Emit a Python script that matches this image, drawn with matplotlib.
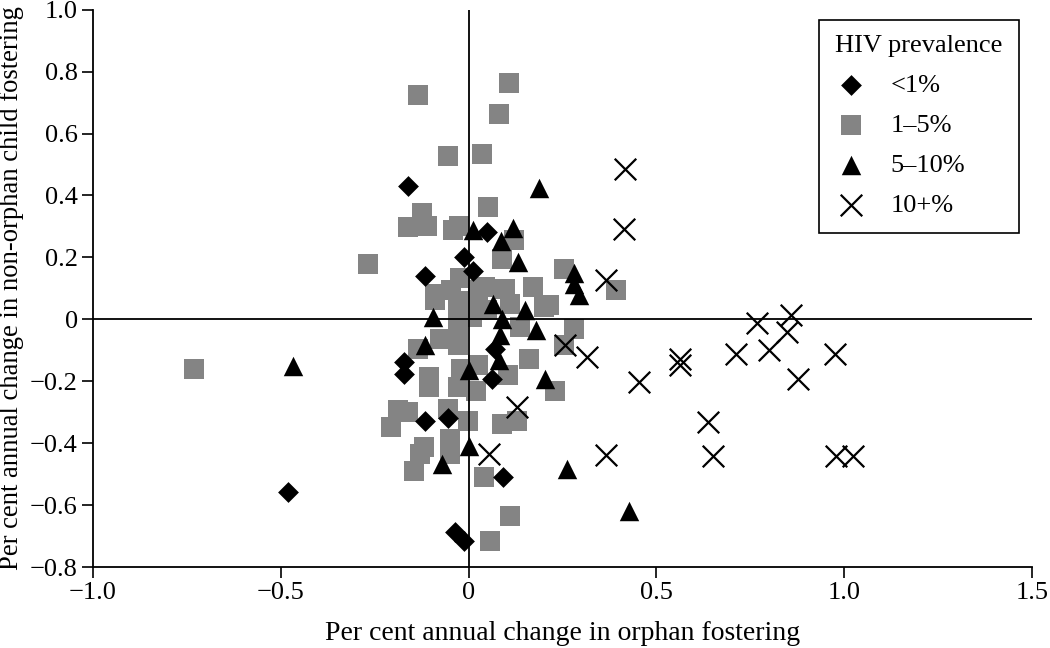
import matplotlib
matplotlib.use('Agg')
import matplotlib.pyplot as plt
from matplotlib.ticker import FuncFormatter

plt.rcParams['font.family'] = ['Liberation Serif', 'DejaVu Serif']

#%% data
# <1%
dia_x = [-0.162, 0.048, -0.012, 0.013, -0.115, -0.171, -0.171, -0.115, -0.055,
         0.091, -0.037, -0.012, 0.062, 0.070, -0.482]
dia_y = [0.431, 0.283, 0.200, 0.156, 0.139, -0.138, -0.176, -0.327, -0.320,
         -0.510, -0.688, -0.715, -0.192, -0.095, -0.557]

# 1-5%
sq_x = [-0.135, 0.108, 0.081, -0.054, 0.035, 0.051, -0.124, -0.160, -0.110, -0.041,
        -0.025, -0.269, 0.120, 0.088, 0.255, 0.394, 0.173, -0.023, 0.044, 0.097,
        -0.090, -0.046, 0.026, 0.200, -0.028, -0.028, -0.028, 0.008, 0.138, 0.281,
        0.254, -0.077, -0.135, 0.160, 0.026, -0.019, 0.106, -0.104, -0.104, 0.021,
        -0.028, 0.231, -0.188, -0.162, -0.206, -0.054, -0.001, 0.088, 0.129, -0.050,
        -0.050, -0.119, -0.130, -0.144, 0.041, 0.111, 0.057, -0.731, 0.110, 0.214,
        -0.090, 0.000, 0.050]
sq_y = [0.725, 0.763, 0.663, 0.528, 0.533, 0.363, 0.345, 0.299, 0.301, 0.288,
        0.300, 0.180, 0.256, 0.196, 0.164, 0.094, 0.105, 0.132, 0.105, 0.099,
        0.083, 0.094, 0.094, 0.040, 0.040, -0.020, -0.084, 0.008, -0.025, -0.030,
        -0.084, -0.062, -0.095, -0.127, -0.149, -0.160, -0.181, -0.187, -0.219, -0.230,
        -0.219, -0.230, -0.294, -0.300, -0.349, -0.289, -0.327, -0.338, -0.327, -0.386,
        -0.435, -0.413, -0.435, -0.489, -0.510, -0.634, -0.717, -0.160, 0.050, 0.045,
        0.061, 0.060, 0.030]

# 5-10%
tri_x = [0.188, 0.013, 0.118, 0.086, 0.133, 0.282, 0.282, 0.294, 0.066, 0.151,
         -0.095, 0.088, 0.180, 0.084, -0.117, 0.080, 0.000, 0.203, 0.000, -0.070,
         0.263, 0.428, -0.468]
tri_y = [0.423, 0.290, 0.295, 0.252, 0.186, 0.148, 0.115, 0.078, 0.051, 0.029,
         0.008, 0.002, -0.036, -0.052, -0.084, -0.133, -0.165, -0.192, -0.408, -0.467,
         -0.483, -0.618, -0.152]

# 10+%
cr_x = [0.417, 0.413, 0.367, 0.258, 0.316, 0.453, 0.129, 0.055, 0.367, 0.562,
        0.562, 0.768, 0.860, 0.848, 0.712, 0.800, 0.976, 0.877, 0.638, 0.652,
        0.980, 1.024]
cr_y = [0.485, 0.291, 0.128, -0.084, -0.122, -0.203, -0.284, -0.435, -0.437, -0.127,
        -0.149, -0.011, 0.015, -0.041, -0.113, -0.100, -0.113, -0.194, -0.332, -0.440,
        -0.440, -0.440]

x_ticks = [-1.0, -0.5, 0, 0.5, 1.0, 1.5]
y_ticks = [-0.8, -0.6, -0.4, -0.2, 0, 0.2, 0.4, 0.6, 0.8, 1.0]

#%% figure
fig = plt.figure(figsize=(10.5, 6.48), dpi=100)
ax = fig.add_axes([0.0886, 0.125, 0.894, 0.86])

ax.scatter(sq_x, sq_y, marker='s', s=14.4**2, color='#848484', linewidths=0,
           label='1\u20135%', zorder=2)
ax.axhline(0, color='black', lw=1.3, zorder=2.5)
ax.axvline(0, color='black', lw=1.3, zorder=2.5)
ax.scatter(dia_x, dia_y, marker='D', s=10.6**2, color='black', linewidths=0,
           label='<1%', zorder=3)
ax.scatter(tri_x, tri_y, marker='^', s=14**2, color='black', linewidths=0,
           label='5\u201310%', zorder=4)
ax.scatter(cr_x, cr_y, marker='x', s=15.5**2, color='black', linewidths=1.6,
           label='10+%', zorder=5)

ax.set_xlim(-1.0, 1.5)
ax.set_ylim(-0.8, 1.0)
ax.set_xticks(x_ticks)
ax.set_yticks(y_ticks)

def fmt(v, pos):
    if abs(v) < 1e-9:
        return '0'
    return ('%.1f' % v).replace('-', '\u2212')

ax.xaxis.set_major_formatter(FuncFormatter(fmt))
ax.yaxis.set_major_formatter(FuncFormatter(fmt))
ax.tick_params(direction='out', length=8, width=1.2, labelsize=19, pad=3)

for s in ['top', 'right']:
    ax.spines[s].set_visible(False)
for s in ['left', 'bottom']:
    ax.spines[s].set_linewidth(1.3)

ax.set_xlabel('Per cent annual change in orphan fostering', fontsize=20, labelpad=12)
ax.set_ylabel('Per cent annual change in non-orphan child fostering', fontsize=19.2, labelpad=4)

h, l = ax.get_legend_handles_labels()
order = [l.index('<1%'), l.index('1\u20135%'), l.index('5\u201310%'), l.index('10+%')]
leg = ax.legend([h[i] for i in order], [l[i] for i in order],
                title='HIV prevalence', loc='upper right', bbox_to_anchor=(1.0, 1.006),
                fontsize=19, title_fontsize=19, frameon=True, fancybox=False,
                edgecolor='black', framealpha=1, labelspacing=0.62,
                handlelength=1.2, handletextpad=0.9, borderpad=0.6, alignment='left')
leg.get_frame().set_linewidth(1.2)

fig.savefig('out.png', dpi=100)
